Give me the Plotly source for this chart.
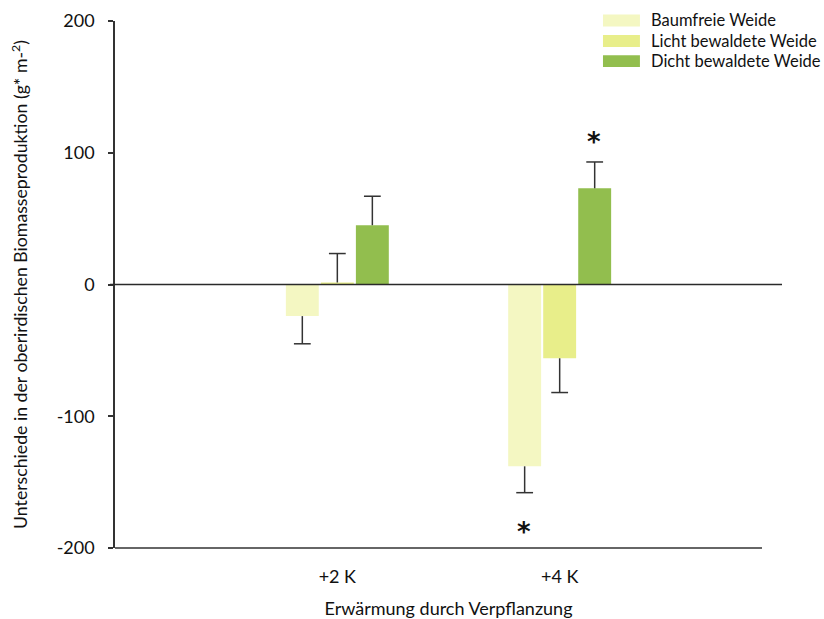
import plotly.graph_objects as go

categories = ["+2 K", "+4 K"]
series_names = ["Baumfreie Weide", "Licht bewaldete Weide", "Dicht bewaldete Weide"]
series_values = [
    [-24, -138],
    [1.5, -56],
    [45, 73],
]
series_errors = [
    [21, 20],
    [22, 26],
    [22, 20],
]
colors = ["#F4F7C2", "#E8EE8A", "#92BE4E"]
# significance markers: (series index, category index)
significant = [(0, 1), (2, 1)]

FONT = "Lato"
ERR_COLOR = "#333333"
BARGAP = 0.5275

fig = go.Figure()
for name, vals, errs, col in zip(series_names, series_values, series_errors, colors):
    up = [e if v >= 0 else 0 for v, e in zip(vals, errs)]
    down = [e if v < 0 else 0 for v, e in zip(vals, errs)]
    fig.add_trace(go.Bar(
        x=categories, y=vals, name=name, marker=dict(color=col, line=dict(width=0)),
        error_y=dict(type="data", symmetric=False, array=up, arrayminus=down,
                     color=ERR_COLOR, thickness=1.5, width=0),
        showlegend=False,
    ))
# caps at the tips of the one-sided error bars
for name, vals, errs in zip(series_names, series_values, series_errors):
    tips = [v + e if v >= 0 else v - e for v, e in zip(vals, errs)]
    fig.add_trace(go.Scatter(
        x=categories, y=tips, mode="markers", showlegend=False, hoverinfo="skip",
        marker=dict(symbol="line-ew", size=12, line=dict(color=ERR_COLOR, width=1.5)),
    ))

slot_px = 35
for si, ci in significant:
    v = series_values[si][ci]
    e = series_errors[si][ci]
    y = v + e + 18 if v >= 0 else v - e - 27
    fig.add_annotation(x=categories[ci], y=y, text="<b>*</b>", showarrow=False,
                       xshift=(si - 1) * slot_px - 1,
                       font=dict(family="DejaVu Sans", size=26, color="#111"),
                       yanchor="middle", yshift=-4)

# custom legend (wide colour boxes as in the original)
for name, col, yc in zip(series_names, colors, [1.001, 0.962, 0.924]):
    fig.add_shape(type="rect", xref="paper", yref="paper", x0=0.7316, x1=0.787,
                  y0=yc - 0.0112, y1=yc + 0.0112, fillcolor=col, line=dict(width=0))
    fig.add_annotation(xref="paper", yref="paper", x=0.801, y=yc, text=name,
                       showarrow=False, xanchor="left", yanchor="middle",
                       font=dict(family=FONT, size=16.5, color="#111"))

# zero line and bottom axis line
fig.add_shape(type="line", xref="paper", yref="y", x0=-0.0075, x1=1.0, y0=0, y1=0,
              line=dict(color="#2a2a2a", width=1.6), layer="above")
fig.add_shape(type="line", xref="paper", yref="paper", x0=0, x1=0.97, y0=0, y1=0,
              line=dict(color="#333333", width=1.5), layer="above")

fig.update_layout(
    width=824, height=619,
    margin=dict(l=115, r=42, t=21, b=71, autoexpand=False),
    paper_bgcolor="white", plot_bgcolor="white",
    barmode="group", bargap=BARGAP, bargroupgap=0.06,
    scattermode="group", scattergap=BARGAP,
    font=dict(family=FONT, size=17, color="#111"),
    showlegend=False,
    xaxis=dict(range=[-1, 2], showline=False, ticks="", showgrid=False, zeroline=False,
               tickfont=dict(size=18), ticklabelstandoff=16,
               title=dict(text="Erwärmung durch Verpflanzung", font=dict(size=18), standoff=16)),
    yaxis=dict(range=[-200, 200], tickvals=[-200, -100, 0, 100, 200],
               ticktext=["-200", "-100", "0", "100", "200"],
               showline=True, linecolor="#333333", linewidth=1.5,
               ticks="outside", ticklen=5, tickcolor="#333333", tickwidth=1.5,
               showgrid=False, zeroline=False, tickfont=dict(size=18), ticklabelstandoff=10,
               title=dict(text="Unterschiede in der oberirdischen Biomasseproduktion (g* m-<sup>2</sup>)",
                          font=dict(size=17.7), standoff=24)),
)

fig.write_html("out.html", config={"displayModeBar": False},
               post_script="document.body.style.margin='0';document.body.style.overflow='hidden';")
